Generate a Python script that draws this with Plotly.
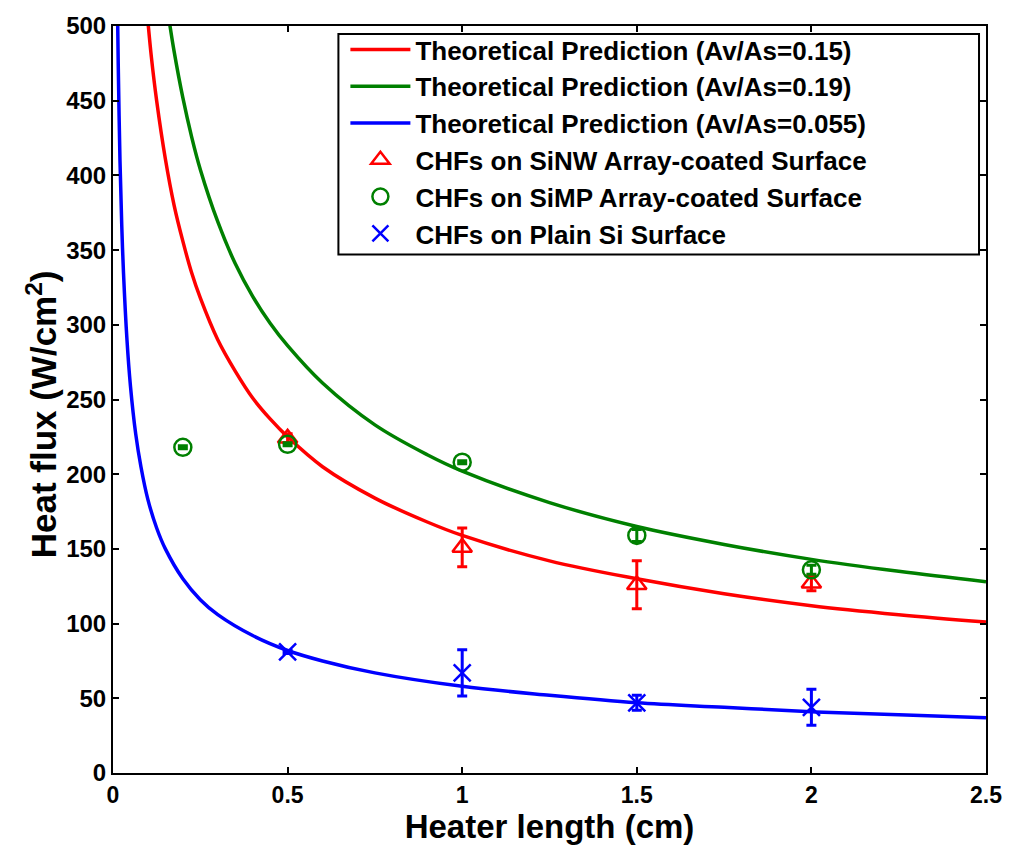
import plotly.graph_objects as go

# Theoretical prediction curves (heater length in cm, heat flux in W/cm^2)
red_x = [0.1, 0.11, 0.125, 0.15, 0.175, 0.2, 0.225, 0.25, 0.3, 0.35, 0.4, 0.45, 0.5, 0.6, 0.75, 0.9, 1.0, 1.25, 1.5, 1.75, 2.0, 2.25, 2.5]
red_y = [503, 479, 450, 411, 380, 356, 335, 318, 290, 269, 251, 237, 225, 205, 184, 168, 159, 142, 130, 120, 112, 106, 101]

green_x = [0.16, 0.175, 0.2, 0.225, 0.25, 0.3, 0.35, 0.4, 0.45, 0.5, 0.6, 0.75, 0.9, 1.0, 1.25, 1.5, 1.75, 2.0, 2.25, 2.5]
green_y = [505, 483, 452, 426, 404, 369, 341, 319, 301, 286, 261, 233, 213, 202, 181, 165, 153, 143, 135, 128]

blue_x = [0.013, 0.015, 0.02, 0.025, 0.03, 0.04, 0.05, 0.065, 0.08, 0.1, 0.125, 0.15, 0.2, 0.25, 0.3, 0.4, 0.5, 0.6, 0.75, 1.0, 1.25, 1.5, 1.75, 2.0, 2.25, 2.5]
blue_y = [509, 474, 410, 367, 335, 290, 259, 227, 205, 183, 164, 150, 130, 116, 106, 92, 82, 75, 67, 58, 52, 47, 44, 41, 39, 37]

# Measured CHF data with error bars
sinw_x = [0.5, 1.0, 1.5, 2.0]
sinw_y = [224, 151, 126, 127]
sinw_err = [3, 13, 16, 5]

simp_x = [0.2, 0.5, 1.0, 1.5, 2.0]
simp_y = [218, 220, 208, 159, 136]
simp_err = [1, 1, 1, 4, 3]

plain_x = [0.5, 1.0, 1.5, 2.0]
plain_y = [81, 67, 47, 44]
plain_err = [1, 15.5, 5, 12]

x_ticks = [0, 0.5, 1, 1.5, 2, 2.5]
x_tick_text = ["0", "0.5", "1", "1.5", "2", "2.5"]
y_ticks = [0, 50, 100, 150, 200, 250, 300, 350, 400, 450, 500]

RED, GREEN, BLUE = "#ff0000", "#008000", "#0000ff"
FONT = "Liberation Sans"

fig = go.Figure()

for xs, ys, col, name in [
    (red_x, red_y, RED, "Theoretical Prediction (Av/As=0.15)"),
    (green_x, green_y, GREEN, "Theoretical Prediction (Av/As=0.19)"),
    (blue_x, blue_y, BLUE, "Theoretical Prediction (Av/As=0.055)"),
]:
    fig.add_trace(go.Scatter(
        x=xs, y=ys, mode="lines", name=name,
        line=dict(color=col, width=3.5, shape="spline", smoothing=1.0),
    ))

for xs, ys, err, col, sym, name in [
    (sinw_x, sinw_y, sinw_err, RED, "triangle-up-open", "CHFs on SiNW Array-coated Surface"),
    (simp_x, simp_y, simp_err, GREEN, "circle-open", "CHFs on SiMP Array-coated Surface"),
    (plain_x, plain_y, plain_err, BLUE, "x-thin-open", "CHFs on Plain Si Surface"),
]:
    fig.add_trace(go.Scatter(
        x=xs, y=ys, mode="markers", name=name,
        marker=dict(symbol=sym, size=17, color=col, line=dict(color=col, width=2.5)),
        error_y=dict(type="data", array=err, visible=True, color=col, thickness=3, width=5),
    ))

fig.update_layout(
    width=1014, height=845,
    margin=dict(l=113, r=22, t=20, b=70),
    paper_bgcolor="white", plot_bgcolor="white",
    showlegend=True,
    legend=dict(
        x=0.2662, y=1.0, xanchor="left", yanchor="top",
        borderwidth=0, bgcolor="rgba(0,0,0,0)",
        font=dict(family=FONT, size=26, color="black", weight="bold"),
        itemwidth=60,
    ),
    font=dict(family=FONT, color="black"),
    # legend frame
    shapes=[dict(
        type="rect", xref="paper", yref="paper",
        x0=0.2582, x1=0.992, y0=0.694, y1=0.9894,
        line=dict(color="black", width=2), fillcolor="white", layer="below",
    )],
    annotations=[dict(
        text="Heat flux (W/cm<sup>2</sup>)", textangle=-90,
        xref="paper", yref="paper", x=-0.0819, y=0.4795,
        xanchor="center", yanchor="middle", showarrow=False,
        font=dict(family=FONT, size=35, color="black", weight="bold"),
    )],
)

fig.update_xaxes(
    range=[0, 2.5], tickvals=x_ticks, ticktext=x_tick_text,
    ticks="inside", ticklen=6, tickwidth=1.5, tickcolor="black",
    showline=True, linecolor="black", linewidth=2, mirror="ticks",
    showgrid=False, zeroline=False,
    tickfont=dict(family=FONT, size=23, color="black", weight="bold"),
    title=dict(text="Heater length (cm)", standoff=2,
               font=dict(family=FONT, size=33, color="black", weight="bold")),
)
fig.update_yaxes(
    range=[0, 500], tickvals=y_ticks,
    ticks="inside", ticklen=6, tickwidth=1.5, tickcolor="black",
    showline=True, linecolor="black", linewidth=2, mirror="ticks",
    showgrid=False, zeroline=False,
    tickfont=dict(family=FONT, size=24, color="black", weight="bold"),
)

fig.write_html("out.html")
